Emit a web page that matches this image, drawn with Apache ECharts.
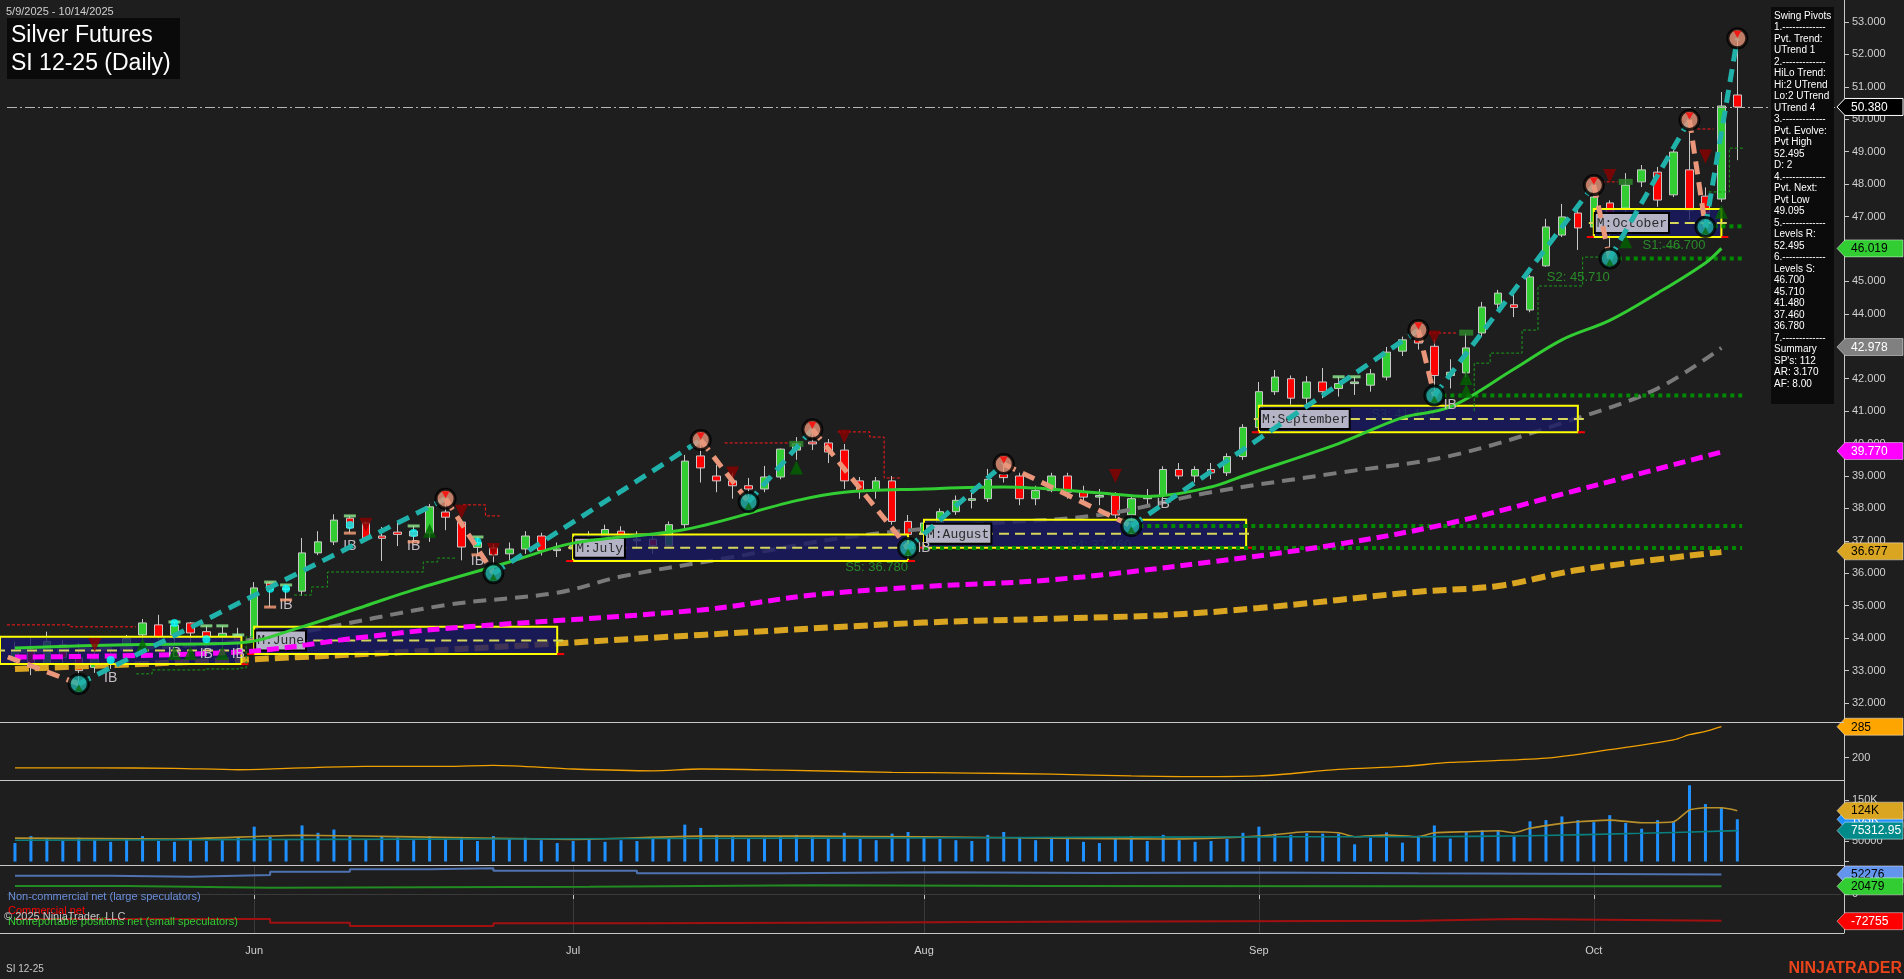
<!DOCTYPE html>
<html><head><meta charset="utf-8">
<script src="https://cdn.jsdelivr.net/npm/echarts@6/dist/echarts.min.js"></script>
<style>html,body{margin:0;padding:0;background:#1e1e1e;overflow:hidden}#c{width:1904px;height:979px}</style>
</head><body><div id="c"></div>
<script>
// ---------------- DATA ----------------
const dates = [
'2025-05-09','2025-05-12','2025-05-13','2025-05-14','2025-05-15','2025-05-16','2025-05-19','2025-05-20','2025-05-21','2025-05-22','2025-05-23','2025-05-27','2025-05-28','2025-05-29','2025-05-30',
'2025-06-02','2025-06-03','2025-06-04','2025-06-05','2025-06-06','2025-06-09','2025-06-10','2025-06-11','2025-06-12','2025-06-13','2025-06-16','2025-06-17','2025-06-18','2025-06-20','2025-06-23','2025-06-24','2025-06-25','2025-06-26','2025-06-27','2025-06-30',
'2025-07-01','2025-07-02','2025-07-03','2025-07-07','2025-07-08','2025-07-09','2025-07-10','2025-07-11','2025-07-14','2025-07-15','2025-07-16','2025-07-17','2025-07-18','2025-07-21','2025-07-22','2025-07-23','2025-07-24','2025-07-25','2025-07-28','2025-07-29','2025-07-30','2025-07-31',
'2025-08-01','2025-08-04','2025-08-05','2025-08-06','2025-08-07','2025-08-08','2025-08-11','2025-08-12','2025-08-13','2025-08-14','2025-08-15','2025-08-18','2025-08-19','2025-08-20','2025-08-21','2025-08-22','2025-08-25','2025-08-26','2025-08-27','2025-08-28','2025-08-29',
'2025-09-02','2025-09-03','2025-09-04','2025-09-05','2025-09-08','2025-09-09','2025-09-10','2025-09-11','2025-09-12','2025-09-15','2025-09-16','2025-09-17','2025-09-18','2025-09-19','2025-09-22','2025-09-23','2025-09-24','2025-09-25','2025-09-26','2025-09-29','2025-09-30',
'2025-10-01','2025-10-02','2025-10-03','2025-10-06','2025-10-07','2025-10-08','2025-10-09','2025-10-10','2025-10-13','2025-10-14'];

const open = [33.40,33.60,33.20,33.80,33.40,33.10,33.35,33.79,34.10,34.41,34.10,34.47,34.20,34.05,34.10,
34.00,35.70,35.50,35.45,36.63,36.97,37.70,37.55,37.15,37.27,37.30,37.24,37.89,37.58,36.80,36.78,36.60,36.75,37.15,36.70,
36.75,36.85,37.10,37.30,37.00,37.05,36.85,37.50,39.62,39.00,38.85,38.70,38.60,38.97,39.80,40.05,40.02,39.80,38.85,38.55,38.85,37.60,
37.20,37.55,37.90,38.25,38.30,39.05,39.00,38.30,38.55,39.00,38.50,38.35,38.40,37.80,38.30,38.40,39.20,39.00,39.20,39.10,39.60,
40.50,41.60,42.00,41.40,41.90,41.70,41.85,41.80,42.05,42.85,43.20,43.00,42.10,42.18,43.41,44.30,44.28,44.12,45.48,46.43,47.11,
46.68,47.42,47.26,48.07,48.37,47.67,48.44,47.63,47.54,50.75];
const high = [33.89,34.05,34.20,33.94,33.85,33.85,33.70,34.10,34.59,34.72,34.50,34.50,34.38,34.38,34.32,
35.73,35.73,35.64,37.09,37.30,37.82,37.77,37.60,37.43,37.58,37.46,38.14,38.30,37.60,37.12,36.90,36.95,37.30,37.25,36.95,
37.00,37.30,37.50,37.45,37.30,37.15,37.60,39.65,40.11,39.34,39.10,38.94,39.31,39.85,40.20,40.44,40.14,39.99,38.97,38.97,39.00,37.80,
37.60,38.00,38.40,38.50,39.22,39.34,39.10,38.70,39.10,39.10,38.70,38.60,38.50,38.40,38.60,39.30,39.40,39.30,39.40,39.70,40.60,
41.90,42.27,42.10,42.08,42.33,42.06,42.06,42.30,42.98,43.30,43.50,43.20,42.60,43.40,44.37,44.74,44.58,45.20,46.93,47.39,47.30,
47.97,47.50,48.34,48.59,48.53,49.05,49.98,47.90,50.84,52.495];
const low = [33.17,32.86,33.10,33.22,32.59,32.93,33.05,33.73,33.85,33.94,33.65,33.73,33.73,33.64,33.42,
33.95,34.96,35.18,35.30,36.56,36.87,37.24,37.05,36.38,36.84,36.97,36.97,37.33,36.40,36.57,36.00,36.40,36.60,36.55,36.50,
36.40,36.60,36.90,36.80,36.75,36.60,36.80,37.40,38.80,38.50,38.30,38.20,38.50,38.90,39.50,39.80,39.40,38.60,38.30,38.30,37.50,36.78,
36.90,37.40,37.80,38.00,38.20,38.80,38.10,38.10,38.50,38.30,38.20,38.10,37.70,37.46,38.10,38.20,38.90,38.80,38.90,39.00,39.50,
40.40,41.50,41.20,41.20,41.40,41.45,41.50,41.60,41.95,42.70,42.90,41.48,41.70,42.05,43.30,44.12,43.90,44.05,45.45,46.37,45.97,
46.55,45.71,47.11,47.91,47.30,47.60,46.90,46.68,47.45,48.74];
const close = [33.60,33.10,33.90,33.40,33.00,33.35,33.33,33.99,34.47,34.04,34.40,34.16,34.05,34.15,33.95,
35.55,35.50,35.55,36.63,36.97,37.64,37.40,37.09,37.08,37.20,37.15,38.05,37.73,36.81,36.95,36.57,36.75,37.15,36.70,36.75,
36.85,37.10,37.35,37.00,37.05,36.85,37.50,39.46,39.25,38.85,38.70,38.60,38.97,39.83,40.00,39.99,39.74,38.85,38.55,38.85,37.60,37.20,
37.55,37.90,38.25,38.30,38.90,38.95,38.30,38.55,39.00,38.50,38.35,38.40,37.80,38.30,38.40,39.20,39.00,39.20,39.10,39.60,40.50,
41.60,42.05,41.40,41.90,41.60,41.85,41.90,42.15,42.82,43.20,43.10,42.10,42.20,42.95,44.21,44.64,44.20,45.14,46.68,46.99,46.65,
47.60,46.49,47.97,48.44,47.51,48.99,47.20,47.11,50.41,50.38];

const volume = [45000,62000,55000,50000,58000,52000,48000,55000,62000,50000,48000,55000,50000,52000,58000,
85000,60000,55000,88000,70000,78000,62000,55000,60000,58000,52000,62000,55000,60000,50000,62000,55000,58000,52000,45000,
50000,55000,48000,52000,50000,55000,58000,90000,82000,65000,60000,55000,58000,62000,65000,60000,58000,70000,55000,52000,68000,72000,
60000,55000,52000,50000,65000,72000,60000,52000,55000,58000,48000,45000,55000,62000,50000,65000,52000,48000,50000,55000,70000,
85000,68000,65000,69000,68000,68000,42000,58000,71000,46000,63000,88000,56000,73000,76000,76000,61000,98000,101000,110000,101000,
96000,113000,94000,80000,101000,96000,186000,140000,133000,103000];
const volAvgFast = [[0,57000],[10,55000],[18,64000],[25,60000],[35,54000],[43,62000],[50,62000],[57,60000],[65,57000],[72,55000],[78,62000],[81,72700],[83,70000],[84,60500],[86,64600],[88,60500],[89,70000],[91,72700],[93,75000],[94,70000],[95,81000],[97,93000],[98,97000],[100,101000],[102,94600],[104,97000],[105,125600],[106,131000],[107,131000],[108,124000]];
const volAvgSlow = [[0,52000],[20,54000],[40,56000],[60,58000],[81,60500],[88,60500],[95,63000],[102,68800],[108,75313]];

// moving averages on price (read points)
const maGreen = [[0,33.70],[7,33.80],[14,33.85],[18,34.35],[22,35.00],[25,35.49],[31,36.35],[35,36.93],[42,37.35],[49,38.24],[52,38.50],[57,38.60],[62,38.66],[68,38.48],[71,38.37],[75,38.66],[77,39.00],[83,40.00],[87,40.80],[90,41.13],[94,42.30],[97,43.20],[100,43.80],[103,44.64],[106,45.57],[107,46.02]];
const maGray = [[0,33.60],[8,33.70],[14,33.90],[18,34.19],[27,35.02],[34,35.40],[38,35.90],[45,36.50],[52,37.10],[60,37.50],[68,37.80],[75,38.50],[83,39.10],[90,39.62],[98,40.79],[103,41.70],[107,42.95]];
const maMagenta = [[0,33.42],[14,33.57],[22,34.04],[27,34.30],[43,34.87],[50,35.33],[57,35.59],[65,35.80],[75,36.35],[83,36.90],[90,37.55],[98,38.57],[107,39.74]];
const maOrange = [[0,33.05],[14,33.33],[27,33.64],[43,34.10],[57,34.48],[65,34.60],[72,34.71],[78,34.93],[88,35.43],[93,35.61],[98,36.10],[107,36.66]];

// swing pivots (bar index, price) - first point is the line entering from the left edge
const swingIdx = [-0.45,4,27,30,43,46,50,56,62,70,88,89,99,100,105,106,108];
const swingPx  = [33.42,32.59,38.30,36.00,40.11,38.20,40.44,36.78,39.37,37.46,43.50,41.48,47.97,45.71,49.98,46.68,52.495];

// monthly boxes
const boxStart = [-0.94,15,35,57,78,99];
const boxEnd   = [14.2,34,56,77.2,98,107];
const boxLow   = [33.20,33.51,36.38,36.79,40.35,46.37];
const boxHigh  = [34.04,34.35,37.20,37.65,41.17,47.23];
const boxLabel = ['','M:June','M:July','M:August','M:September','M:October'];

// support levels
const lvlStart = [56,70,89,100,106];
const lvlEnd   = [108.3,108.3,108.3,108.3,108.3];
const lvlPrice = [36.78,37.46,41.48,45.71,46.70];
const lvlText  = ['S5: 36.780','S4: 37.460','S3: 41.480','S2: 45.710','S1: 46.700'];

// trailing step lines
const resistSegs = [
 [[-0.5,34.41],[3.5,34.41],[3.5,34.35],[7.6,34.35]],
 [[28.1,38.11],[29.5,38.11],[29.5,37.77],[30.4,37.77]],
 [[44.5,40.02],[48.6,40.02]],
 [[51.6,40.36],[53.6,40.36],[53.6,40.20],[54.5,40.20],[54.5,38.94],[55.6,38.94]],
 [[88.6,43.41],[90.4,43.41]],
 [[99.5,48.07],[100.5,48.07]],
 [[105.5,49.70],[106.5,49.70]]];
const supportSegs = [
 [[7.6,32.90],[8.6,32.90],[8.6,33.02],[12,33.02],[12,33.05],[14,33.05],[14,33.08],[14.5,33.08],[14.5,34.04],[15,34.04]],
 [[17.5,35.33],[18.6,35.33],[18.6,35.58],[19.6,35.58],[19.6,36.04],[25.6,36.04],[25.6,36.35],[26.5,36.35],[26.5,36.47],[27.7,36.47]],
 [[91.5,41.00],[91.5,42.48],[92.5,42.48],[92.5,42.79],[94.5,42.79],[94.5,43.50],[95.5,43.50],[95.5,44.86],[98.3,44.86],[98.3,45.75],[100.5,45.75]],
 [[103.3,46.06],[104.5,46.06]],
 [[106.2,47.76],[107.5,47.76],[107.5,49.11],[108.4,49.11]]];

// signal markers
const sellTri = [[5,33.79],[22,37.50],[28,37.90],[30,36.72],[45,39.08],[52,40.21],[69,39.00],[89,43.27],[100,48.25],[106,48.85]];
const buyTri  = [[8,33.79],[10,33.54],[11,33.54],[13,33.54],[26,37.31],[49,39.26],[91,42.02],[91,41.63],[101,46.24],[107,47.15]];
const ibDots  = [[6,33.33],[10,34.47],[12,33.97],[16,35.52],[17,35.52],[21,37.49],[25,37.24],[29,36.97]];
const ibTops  = [[10,34.50],[12,34.38],[13,34.38],[14,34.10],[16,35.73],[17,35.64],[21,37.77],[25,37.46],[29,37.12],[83,42.06],[84,42.06]];
const ibBots  = [[16,34.96],[17,35.18],[21,37.24],[25,36.97],[29,36.57]];
const ibText  = [[6,32.78],[10,33.54],[12,33.50],[14,33.50],[17,35.02],[21,36.84],[25,36.84],[29,36.38],[57,36.79],[72,38.14],[90,41.20]];
const greenRects = [[49,39.99],[91,43.42],[101,48.07]];

// sub panels
const oscLine = [[0,172],[5,172],[10,171],[14,167],[18,172],[22,176],[27,176],[30,179],[35,169],[40,164],[43,169],[48,166],[55,160],[60,158],[65,155],[70,150],[74,148],[78,150],[83,168],[87,176],[90,187],[96,199],[100,222],[104,249],[105,263],[106,272],[107,285]];
const cotLarge = [[0,49000],[6,46300],[11,50900],[16,59700],[21,66100],[26,68800],[30,62400],[39,55400],[48,58000],[58,56000],[68,57500],[78,55400],[88,52276],[107,52276]];
const cotSmall = [[0,21400],[7,16900],[16,19500],[36,23300],[50,21500],[65,20500],[88,20479],[107,20479]];
const cotComm  = [[0,-66900],[16,-76800],[21,-85700],[30,-78400],[39,-76800],[50,-74000],[65,-71500],[88,-66900],[94,-71500],[107,-72755]];

// axis value tags
const priceTagVals = [50.380,46.019,42.978,39.770,36.677];
const priceTagBg   = ['#000000','#32cd32','#808080','#ff00ff','#daa520'];
const priceTagFg   = ['#ffffff','#000000','#ffffff','#ffffff','#000000'];
const volTagVals = [103000,124000,75312.95];
const volTagText = ['103K','124K','75312.95'];
const volTagBg   = ['#1e90ff','#daa520','#008b8b'];
const volTagFg   = ['#ffffff','#000000','#ffffff'];
const cotTagVals = [52276,20479,-72755];
const cotTagBg   = ['#6495ed','#32cd32','#ff0000'];
const cotTagFg   = ['#000000','#000000','#ffffff'];
const oscTagVals = [285];

const pivotPanel = ['Swing Pivots','1.-------------','Pvt. Trend:','UTrend 1','2.-------------','HiLo Trend:','Hi:2 UTrend','Lo:2 UTrend','UTrend 4','3.-------------','Pvt. Evolve:','Pvt High','52.495','D: 2','4.-------------','Pvt. Next:','Pvt Low','49.095','5.-------------','Levels R:','52.495','6.-------------','Levels S:','46.700','45.710','41.480','37.460','36.780','7.-------------','Summary',"SP's: 112",'AR: 3.170','AF: 8.00'];

// ---------------- CHART ----------------
const FONT = '"Liberation Sans", Arial, sans-serif';
const MONO = '"Liberation Mono", "DejaVu Sans Mono", monospace';
const cats = dates.concat(['x1','x2','x3','x4','x5','x6']);
const NCAT = cats.length;
const monthNames = ['Jan','Feb','Mar','Apr','May','Jun','Jul','Aug','Sep','Oct','Nov','Dec'];
const monthStart = new Set();
dates.forEach((d,i)=>{ if(i>0 && d.slice(5,7)!==dates[i-1].slice(5,7)) monthStart.add(i); });
const isMonth = (i)=>monthStart.has(i);

function px(api, x, y){
  const b = Math.max(0, Math.min(NCAT-1, Math.floor(x)));
  const p = api.coord([b, y]);
  const w = api.size([1, 0])[0];
  return [p[0] + (x - b) * w, p[1]];
}

const GL = 7, GR = 63;
const grid = [
  {left:GL,right:GR,top:0,height:722},
  {left:GL,right:GR,top:722,height:58},
  {left:GL,right:GR,top:780,height:85},
  {left:GL,right:GR,top:865,height:68}];

const xAxis = [0,1,2,3].map(g=>{
  const a = {type:'category',gridIndex:g,data:cats,boundaryGap:true,axisLine:{show:false},
    axisTick:{show:false},axisLabel:{show:false},splitLine:{show:false}};
  if(g===3){
    a.axisTick = {show:true,alignWithLabel:true,interval:(i)=>isMonth(i),length:5,lineStyle:{color:'#c8c8c8'}};
    a.axisLabel = {show:true,interval:(i)=>isMonth(i),color:'#d0d0d0',fontSize:11,fontFamily:FONT,margin:12,
      formatter:(v)=>monthNames[parseInt(v.slice(5,7),10)-1]};
    a.splitLine = {show:true,alignWithLabel:true,interval:(i)=>isMonth(i),lineStyle:{color:'#3a3a3a',width:1}};
  }
  return a;
});

function yAx(g,min,max,labVals,tickVals,fmt){
  return {type:'value',gridIndex:g,position:'right',offset:3,min:min,max:max,
    axisLine:{show:true,lineStyle:{color:'#c8c8c8'}},
    axisTick:{show:true,length:5,customValues:tickVals,lineStyle:{color:'#c8c8c8'}},
    axisLabel:{show:true,customValues:labVals,color:'#d0d0d0',fontSize:11,fontFamily:FONT,margin:8,formatter:fmt},
    splitLine:{show:false}};
}
const priceTicks = []; for(let v=32; v<=53; v++) priceTicks.push(v);
const yAxis = [
  yAx(0,31.415,53.678,priceTicks,priceTicks,(v)=>v.toFixed(3)),
  yAx(1,138.9,297.9,[200],[200],(v)=>String(v)),
  yAx(2,-8500,198800,[50000,150000],[0,50000,100000,150000],(v)=>v===150000?'150K':String(v)),
  yAx(3,-104400,77600,[0],[0],(v)=>String(v))];

function tagSeries(g, vals, texts, bgs, fgs, z){
  return {type:'custom',xAxisIndex:g,yAxisIndex:g,z:z,clip:false,silent:true,
    data: vals.map(v=>[0,v]),
    renderItem:(params,api)=>{
      const k = params.dataIndex;
      const y = api.coord([0, vals[k]])[1];
      const h = 8.5;
      return {type:'group',children:[
        {type:'polygon',shape:{points:[[1837,y],[1845,y-h],[1903,y-h],[1903,y+h],[1845,y+h]]},
          style:{fill:bgs[k],stroke:k===0&&g===0?'#ffffff':'rgba(255,255,255,0.45)',lineWidth:1}},
        {type:'text',style:{text:texts[k],x:1851,y:y+0.5,fill:fgs[k],font:'12px '+FONT,
          align:'left',verticalAlign:'middle',textAlign:'left',textVerticalAlign:'middle'}}]};
    }};
}

function segSeries(segs, color, z){
  return {type:'custom',xAxisIndex:0,yAxisIndex:0,z:z,silent:true,clip:false,
    data: segs.map(s=>[Math.max(0,Math.round(s[0][0])), s[0][1]]),
    renderItem:(params,api)=>{
      const pts = segs[params.dataIndex].map(p=>px(api,p[0],p[1]));
      return {type:'polyline',shape:{points:pts},style:{stroke:color,lineWidth:1,lineDash:[3,2],fill:null}};
    }};
}

function maLine(data,color,width,dash,z){
  return {type:'line',xAxisIndex:0,yAxisIndex:0,data:data,showSymbol:false,symbol:'none',smooth:0.35,
    z:z,silent:true,lineStyle:{color:color,width:width,type:dash||'solid',cap:'butt'}};
}

const ohlc = open.map((o,i)=>[o, close[i], low[i], high[i]]);

const series = [
  {type:'candlestick',xAxisIndex:0,yAxisIndex:0,data:ohlc,barWidth:8,z:2,silent:true,
    itemStyle:{color:'#32cd32',color0:'#ff0000',borderColor:'#c8c8c8',borderColor0:'#c8c8c8',borderWidth:1},
    markLine:{silent:true,symbol:'none',label:{show:false},
      lineStyle:{color:'#b4b4b4',width:1,type:[10,3,2,3]},data:[{yAxis:close[close.length-1]}]}},
  maLine(maGray,'#7a7a7a',4,[13,8],3),
  maLine(maOrange,'#daa520',6,[14,6],3),
  // S level texts (under boxes)
  {type:'custom',xAxisIndex:0,yAxisIndex:0,z:3,silent:true,clip:false,
    data: lvlStart.map((s,k)=>[s,lvlPrice[k]]),
    renderItem:(params,api)=>{
      const k = params.dataIndex; const p = px(api,lvlStart[k],lvlPrice[k]);
      return {type:'text',style:{text:lvlText[k],x:p[0],y:p[1]+19,fill:'#2a8a2a',font:'13px '+FONT,
        align:'right',verticalAlign:'middle',textAlign:'right',textVerticalAlign:'middle'}};
    }},
  // monthly boxes
  {type:'custom',xAxisIndex:0,yAxisIndex:0,z:4,silent:true,clip:false,
    data: boxStart.map((s,k)=>[Math.max(0,Math.round(s)),boxHigh[k]]),
    renderItem:(params,api)=>{
      const k = params.dataIndex;
      const p1 = px(api,boxStart[k],boxHigh[k]);
      const p2 = px(api,boxEnd[k],boxLow[k]);
      const x1 = Math.max(0,p1[0]);
      const mid = (p1[1]+p2[1])/2;
      const ch = [
        {type:'rect',shape:{x:x1,y:p1[1],width:p2[0]-x1,height:p2[1]-p1[1]},
          style:{fill:'rgba(24,24,100,0.80)',stroke:'#ffff00',lineWidth:2}},
        {type:'line',shape:{x1:x1-5,y1:mid,x2:p2[0]+6,y2:mid},style:{stroke:'#d6d65a',lineWidth:2,lineDash:[10,6]}},
        {type:'line',shape:{x1:p2[0],y1:p2[1],x2:p2[0]+7,y2:p2[1]},style:{stroke:'#ff0000',lineWidth:2}},
        {type:'line',shape:{x1:x1-7,y1:p2[1],x2:x1,y2:p2[1]},style:{stroke:'#ff0000',lineWidth:2}}];
      if(boxLabel[k]){
        const tw = boxLabel[k].length*7.8+4;
        ch.push({type:'rect',shape:{x:x1+1,y:mid-10,width:tw,height:20},style:{fill:'#b4b4c6',stroke:'#000000',lineWidth:2}});
        ch.push({type:'text',style:{text:boxLabel[k],x:x1+3,y:mid+0.5,fill:'#2b2b2b',font:'13px '+MONO,
          align:'left',verticalAlign:'middle',textAlign:'left',textVerticalAlign:'middle'}});
      }
      return {type:'group',children:ch};
    }},
  maLine(maGreen,'#32cd32',3,'solid',5),
  maLine(maMagenta,'#ff00ff',5,[12,6],5),
  segSeries(resistSegs,'#ff1a1a',5),
  segSeries(supportSegs,'#1a9a1a',5),
  // thick dotted support levels
  {type:'custom',xAxisIndex:0,yAxisIndex:0,z:5,silent:true,clip:false,
    data: lvlStart.map((s,k)=>[s,lvlPrice[k]]),
    renderItem:(params,api)=>{
      const k = params.dataIndex;
      const a = px(api,lvlStart[k],lvlPrice[k]); const b = px(api,lvlEnd[k],lvlPrice[k]);
      return {type:'line',shape:{x1:a[0],y1:a[1],x2:b[0],y2:b[1]},style:{stroke:'#008a00',lineWidth:4,lineDash:[4,4]}};
    }},
  // signals
  {type:'scatter',xAxisIndex:0,yAxisIndex:0,z:6,silent:true,data:sellTri,symbol:'triangle',symbolRotate:180,symbolSize:[13,14],itemStyle:{color:'#8b0000'}},
  {type:'scatter',xAxisIndex:0,yAxisIndex:0,z:6,silent:true,data:buyTri,symbol:'triangle',symbolSize:[13,14],itemStyle:{color:'#006400'}},
  {type:'scatter',xAxisIndex:0,yAxisIndex:0,z:6,silent:true,data:greenRects,symbol:'rect',symbolSize:[14,6],itemStyle:{color:'#2e8b2e'}},
  {type:'scatter',xAxisIndex:0,yAxisIndex:0,z:6,silent:true,data:ibTops,symbol:'rect',symbolSize:[12,3],itemStyle:{color:'#90ee90'}},
  {type:'scatter',xAxisIndex:0,yAxisIndex:0,z:6,silent:true,data:ibBots,symbol:'rect',symbolSize:[12,3],itemStyle:{color:'#ffa07a'}},
  {type:'scatter',xAxisIndex:0,yAxisIndex:0,z:6,silent:true,data:ibDots,symbol:'circle',symbolSize:8,itemStyle:{color:'#00ffff'}},
  {type:'custom',xAxisIndex:0,yAxisIndex:0,z:6,silent:true,data:ibText,
    renderItem:(params,api)=>{
      const p = api.coord([api.value(0),api.value(1)]);
      return {type:'text',style:{text:'IB',x:p[0],y:p[1],fill:'#c4bcc4',font:'14px '+FONT,
        align:'center',verticalAlign:'middle',textAlign:'center',textVerticalAlign:'middle'}};
    }},
  // swing lines
  {type:'custom',xAxisIndex:0,yAxisIndex:0,z:7,silent:true,clip:false,
    data: swingIdx.map((x,k)=>[Math.max(0,Math.round(x)),swingPx[k]]),
    renderItem:(params,api)=>{
      const k = params.dataIndex; if(k===0) return null;
      const a = px(api,swingIdx[k-1],swingPx[k-1]); const b = px(api,swingIdx[k],swingPx[k]);
      const up = swingPx[k] > swingPx[k-1];
      return {type:'line',shape:{x1:a[0],y1:a[1],x2:b[0],y2:b[1]},
        style:{stroke:up?'#20b2aa':'#e9967a',lineWidth:5,lineDash:[13,8]}};
    }},
  // pivot circles
  {type:'scatter',xAxisIndex:0,yAxisIndex:0,z:8,silent:true,symbolSize:19,
    data: swingIdx.slice(1).map((x,k)=>({value:[x,swingPx[k+1]],
      itemStyle:{color:(swingPx[k+1]>swingPx[k])?'#e9967a':'#20b2aa',borderColor:'#000',borderWidth:3}}))},
  {type:'scatter',xAxisIndex:0,yAxisIndex:0,z:9,silent:true,symbol:'triangle',symbolRotate:180,symbolSize:[8,7],symbolOffset:[0,-4],
    data: swingIdx.slice(1).map((x,k)=>[x,swingPx[k+1]]).filter((p,k)=>swingPx[k+1]>swingPx[k]),itemStyle:{color:'#ff0000'}},
  {type:'scatter',xAxisIndex:0,yAxisIndex:0,z:9,silent:true,symbol:'triangle',symbolSize:[8,7],symbolOffset:[0,4],
    data: swingIdx.slice(1).map((x,k)=>[x,swingPx[k+1]]).filter((p,k)=>swingPx[k+1]<swingPx[k]),itemStyle:{color:'#0b6b0b'}},
  // panel 2
  {type:'line',xAxisIndex:1,yAxisIndex:1,data:oscLine,symbol:'none',smooth:0.3,silent:true,lineStyle:{color:'#f0a000',width:1.3}},
  // volume
  {type:'bar',xAxisIndex:2,yAxisIndex:2,data:volume,barWidth:3,silent:true,itemStyle:{color:'#1e90ff'}},
  {type:'line',xAxisIndex:2,yAxisIndex:2,data:volAvgFast,symbol:'none',smooth:0.2,silent:true,z:3,lineStyle:{color:'#b8902a',width:1.6}},
  {type:'line',xAxisIndex:2,yAxisIndex:2,data:volAvgSlow,symbol:'none',smooth:0.3,silent:true,z:3,lineStyle:{color:'#0a7f7f',width:1.6}},
  // COT
  {type:'line',xAxisIndex:3,yAxisIndex:3,data:cotLarge,symbol:'none',step:'end',silent:true,lineStyle:{color:'#4f73b0',width:2},
    markLine:{silent:true,symbol:'none',label:{show:false},lineStyle:{color:'#3a3a3a',width:1,type:'solid'},data:[{yAxis:0}]}},
  {type:'line',xAxisIndex:3,yAxisIndex:3,data:cotSmall,symbol:'none',step:'end',silent:true,lineStyle:{color:'#228b22',width:2}},
  {type:'line',xAxisIndex:3,yAxisIndex:3,data:cotComm,symbol:'none',step:'end',silent:true,lineStyle:{color:'#a01010',width:2}},
  // axis tags
  tagSeries(0, priceTagVals, priceTagVals.map(v=>v.toFixed(3)), priceTagBg, priceTagFg, 20),
  tagSeries(1, oscTagVals, oscTagVals.map(v=>String(v)), ['#ffa500'], ['#000000'], 20),
  tagSeries(2, volTagVals, volTagText, volTagBg, volTagFg, 20),
  tagSeries(3, cotTagVals, cotTagVals.map(v=>String(v)), cotTagBg, cotTagFg, 20)
];

const sepY = [722.5,780.5,865.5,933.5];
const graphic = [
  ...sepY.map(y=>({type:'line',z:50,silent:true,shape:{x1:0,y1:y,x2:1844,y2:y},style:{stroke:'#c8c8c8',lineWidth:1}})),
  {type:'text',z:50,silent:true,style:{text:'5/9/2025 - 10/14/2025',x:6,y:11.5,fill:'#d0d0d0',font:'11px '+FONT,verticalAlign:'middle',textVerticalAlign:'middle'}},
  {type:'rect',z:50,silent:true,shape:{x:7,y:18,width:173,height:61},style:{fill:'#0a0a0a'}},
  {type:'text',z:51,silent:true,style:{text:'Silver Futures',x:11,y:36,fill:'#ffffff',font:'23px '+FONT,verticalAlign:'middle',textVerticalAlign:'middle'}},
  {type:'text',z:51,silent:true,style:{text:'SI 12-25 (Daily)',x:11,y:64,fill:'#ffffff',font:'23px '+FONT,verticalAlign:'middle',textVerticalAlign:'middle'}},
  {type:'rect',z:50,silent:true,shape:{x:1771,y:7,width:63,height:397},style:{fill:'#0b0b0b'}},
  {type:'text',z:51,silent:true,style:{text:pivotPanel.join('\n'),x:1774,y:10,fill:'#ffffff',font:'10px '+FONT,lineHeight:11.5}},
  {type:'text',z:51,silent:true,style:{text:'Non-commercial net (large speculators)',x:8,y:897,fill:'#6a8fdc',font:'11px '+FONT,verticalAlign:'middle',textVerticalAlign:'middle'}},
  {type:'text',z:51,silent:true,style:{text:'Commercial net',x:8,y:911,fill:'#ff0000',font:'11px '+FONT,verticalAlign:'middle',textVerticalAlign:'middle'}},
  {type:'text',z:52,silent:true,style:{text:'\u00a9 2025 NinjaTrader, LLC',x:4,y:917,fill:'#c8c8c8',font:'11px '+FONT,verticalAlign:'middle',textVerticalAlign:'middle'}},
  {type:'text',z:51,silent:true,style:{text:'Nonreportable positions net (small speculators)',x:8,y:922,fill:'#32cd32',font:'11px '+FONT,verticalAlign:'middle',textVerticalAlign:'middle'}},
  {type:'text',z:51,silent:true,style:{text:'SI 12-25',x:6,y:969,fill:'#c8c8c8',font:'10px '+FONT,verticalAlign:'middle',textVerticalAlign:'middle'}},
  {type:'text',z:51,silent:true,style:{text:'NINJATRADER',x:1902,y:969,fill:'#e8441c',font:'bold 16px '+FONT,align:'right',textAlign:'right',verticalAlign:'middle',textVerticalAlign:'middle'}}
];

const chart = echarts.init(document.getElementById('c'), null, {renderer:'canvas'});
chart.setOption({backgroundColor:'#1e1e1e',animation:false,grid:grid,xAxis:xAxis,yAxis:yAxis,series:series,graphic:graphic});
</script></body></html>
